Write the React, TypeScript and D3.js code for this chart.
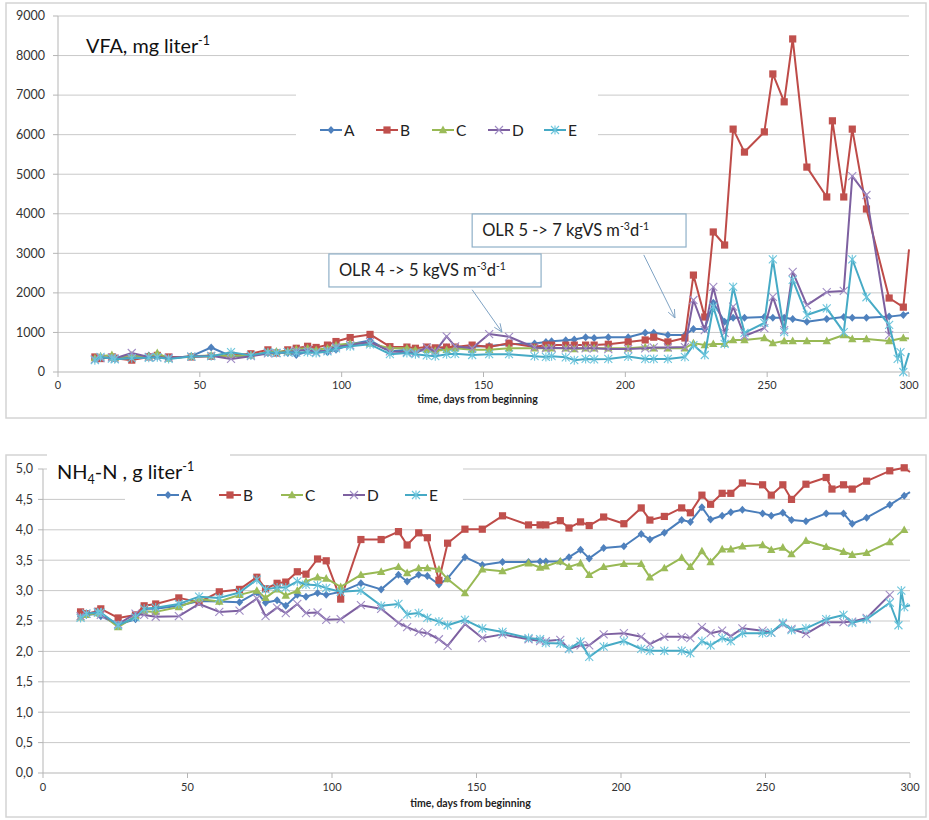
import React from "react";
import * as d3 from "d3";

// Sampling days (days from beginning) shared by both measurement series
const days = [
  13, 15, 19, 20, 26, 32, 35, 39, 47, 54,
  61, 68, 74, 77, 81, 84, 88, 91, 95, 98,
  103, 110, 117, 123, 126, 130, 133, 137, 140, 146,
  152, 159, 168, 172, 174, 179, 182, 186, 189, 194,
  201, 207, 210, 215, 221, 224, 228, 231, 235, 238,
  242, 249, 252, 256, 259, 264, 271, 273, 277, 280,
  285, 293, 296, 297, 298, 300,
];

const seriesNames = ["A", "B", "C", "D", "E"];

// VFA, mg per liter
const vfaA = [
  330, 360, 350, 340, 380, 420, 400, 350, 400, 620,
  400, 420, 480, 500, 480, 430, 520, 550, 500, 560,
  700, 800, 520, 560, 520, 560, 520, 620, 600, 640,
  660, 700, 720, 760, 780, 800, 820, 880, 860, 880,
  880, 990, 990, 935, 935, 1090, 1090, 1750, 1270, 1370,
  1370, 1390, 1370, 1370, 1340, 1270, 1340, null, 1390, 1370,
  1370, 1400, null, null, 1440, 1500,
];
const vfaB = [
  380, 340, 380, 350, 300, 380, 420, 380, 380, 400,
  420, 460, 560, 480, 560, 600, 650, 620, 680, 770,
  870, 950, 640, 630, 600, 630, 610, 630, 630, 680,
  630, 730, 630, 680, 680, 680, 680, 680, 680, 700,
  760, 810, 880, 760, 860, 2450, 1390, 3540, 3210, 6140,
  5560, 6070, 7535, 6830, 8420, 5180, 4425, 6350, 4425, 6140,
  4120, 1870, null, null, 1640, 3100,
];
const vfaC = [
  350, 400, 430, 360, 420, 400, 480, 340, 400, 420,
  410, 420, 500, 520, 520, 580, 600, 560, 600, 680,
  720, 720, 600, 600, 560, 560, 540, 560, 600, 560,
  560, 600, 600, 600, 600, 600, 580, 600, 600, 600,
  600, 630, 600, 600, 600, 730, 680, 710, 710, 810,
  810, 860, 730, 785, 785, 785, 785, null, 935, 835,
  835, 785, null, null, 860, 850,
];
const vfaD = [
  320, 350, 370, 340, 480, 380, 370, 360, 390, 410,
  330, 400, 470, 480, 500, 540, 560, 500, 550, 640,
  680, 760, 520, 500, 480, 620, 520, 900, 650, 600,
  960, 890, 620, 600, 610, 600, 600, 600, 600, 580,
  580, 600, 620, 620, 630, 1820, 1060, 2150, 990, 1650,
  910, 1110, 1900, 1060, 2530, 1690, 2020, null, 2050, 4950,
  4475, 935, null, null, null, null,
];
const vfaE = [
  300, 380, 340, 320, 350, 360, 370, 330, 390, 400,
  500, 420, 500, 480, 500, 490, 500, 480, 520, 600,
  650, 700, 450, 480, 450, 420, 400, 450, 460, 430,
  450, 450, 400, 380, 400, 370, 300, 330, 320, 330,
  390, 330, 330, 330, 380, 680, 430, 1650, 710, 2150,
  990, 1240, 2850, 1010, 2330, 1440, 1610, null, 1010, 2850,
  1890, 1190, 330, 500, 0, 480,
];

// NH4-N, g per liter
const nh4A = [
  2.57, 2.6, 2.62, 2.58, 2.44, 2.53, 2.7, 2.7, 2.75, 2.83,
  2.82, 2.81, 2.97, 2.8, 2.84, 2.75, 2.93, 2.9, 2.96, 2.93,
  2.98, 3.12, 3.02, 3.26, 3.15, 3.26, 3.24, 3.1, 3.2, 3.55,
  3.42, 3.47, 3.47, 3.48, 3.48, 3.48, 3.55, 3.67, 3.53, 3.7,
  3.73, 3.93, 3.84, 3.95, 4.16, 4.13, 4.37, 4.17, 4.23, 4.29,
  4.33, 4.27, 4.23, 4.28, 4.16, 4.14, 4.27, null, 4.27, 4.1,
  4.2, 4.41, null, null, 4.56, 4.62,
];
const nh4B = [
  2.65, 2.62, 2.66, 2.7, 2.55, 2.6, 2.75, 2.78, 2.88, 2.81,
  2.98, 3.02, 3.22, 3.03, 3.12, 3.14, 3.31, 3.27, 3.52, 3.49,
  2.86, 3.84, 3.84, 3.97, 3.75, 3.95, 3.87, 3.17, 3.78, 4.01,
  4.01, 4.23, 4.08, 4.08, 4.08, 4.15, 4.03, 4.13, 4.07, 4.21,
  4.1, 4.36, 4.16, 4.22, 4.36, 4.28, 4.57, 4.42, 4.6, 4.6,
  4.77, 4.74, 4.57, 4.74, 4.5, 4.75, 4.86, 4.67, 4.74, 4.67,
  4.8, 4.97, null, null, 5.02, 4.95,
];
const nh4C = [
  2.56, 2.6, 2.63, 2.62, 2.4, 2.58, 2.66, 2.65, 2.73, 2.86,
  2.82, 2.93, 3.0, 2.88, 3.02, 2.92, 3.0, 3.15, 3.22, 3.2,
  3.06, 3.26, 3.31, 3.39, 3.29, 3.37, 3.37, 3.35, 3.19, 2.96,
  3.35, 3.32, 3.45, 3.38, 3.4, 3.48, 3.39, 3.45, 3.26, 3.39,
  3.44, 3.44, 3.22, 3.37, 3.54, 3.39, 3.65, 3.47, 3.68, 3.68,
  3.73, 3.75, 3.67, 3.71, 3.6, 3.82, 3.72, null, 3.64, 3.59,
  3.62, 3.8, null, null, 4.0, null,
];
const nh4D = [
  2.58, 2.62, 2.65, 2.6, 2.45, 2.62, 2.6, 2.57, 2.58, 2.78,
  2.65, 2.67, 2.87, 2.58, 2.72, 2.63, 2.78, 2.63, 2.64, 2.52,
  2.53, 2.76, 2.7, 2.47, 2.4, 2.32, 2.3, 2.2, 2.09, 2.45,
  2.22, 2.28, 2.2, 2.17, 2.17, 2.19, 2.04, 2.1, 2.1, 2.28,
  2.3, 2.24, 2.12, 2.24, 2.24, 2.22, 2.4, 2.3, 2.34, 2.25,
  2.38, 2.34, 2.31, 2.45, 2.37, 2.29, 2.48, null, 2.48, 2.49,
  2.55, 2.93, null, null, null, null,
];
const nh4E = [
  2.55, 2.62, 2.64, 2.64, 2.43, 2.56, 2.7, 2.72, 2.78, 2.9,
  2.88, 2.97, 3.18, 3.02, 3.05, 3.05, 3.15, 3.1, 3.09, 3.04,
  2.98, 3.0, 2.75, 2.78, 2.61, 2.63, 2.55, 2.49, 2.43, 2.52,
  2.38, 2.32, 2.22, 2.2, 2.14, 2.13, 2.04, 2.16, 1.91, 2.08,
  2.17, 2.04, 2.01, 2.01, 2.01, 1.97, 2.17, 2.1, 2.22, 2.17,
  2.3, 2.3, 2.31, 2.47, 2.35, 2.38, 2.53, null, 2.6, 2.47,
  2.53, 2.8, 2.43, 3.0, 2.73, 2.76,
];

const dayTicks = [0, 50, 100, 150, 200, 250, 300];
const vfaTicks = [0, 1000, 2000, 3000, 4000, 5000, 6000, 7000, 8000, 9000];
const nh4Ticks = [0, 0.5, 1, 1.5, 2, 2.5, 3, 3.5, 4, 4.5, 5];

// Loading-rate change notes on the VFA panel: label box (days, values), arrow tail and tip
const olrNotes = [
  { from: "4", to: "5", box: [95.5, 170.3, 2984, 2150], tail: [146, 2080], tip: [156.5, 1010] },
  { from: "5", to: "7", box: [146, 221.4, 3995, 3160], tail: [206.5, 2960], tip: [217.5, 1365] },
];

const lineColors = ["#4A7EBB", "#BE4B48", "#98B954", "#7D60A0", "#46AAC5"];
const markerColors = ["#4F81BD", "#C0504D", "#9BBB59", "#A08CC4", "#6CC5DC"];
const markerKinds = ["diamond", "square", "triangle", "x", "star"];

const FONT = "Lato, 'Open Sans', sans-serif";
const GRID = "#c9c9c9";

function Marker({ kind, x, y, color }: { kind: string; x: number; y: number; color: string }) {
  switch (kind) {
    case "diamond":
      return <path d={`M${x},${y - 4}L${x + 3.6},${y}L${x},${y + 4}L${x - 3.6},${y}Z`} fill={color} />;
    case "square":
      return <rect x={x - 3.6} y={y - 3.6} width={7.2} height={7.2} fill={color} />;
    case "triangle":
      return <path d={`M${x},${y - 4.4}L${x + 4.2},${y + 3.2}L${x - 4.2},${y + 3.2}Z`} fill={color} />;
    case "x":
      return (
        <path
          d={`M${x - 4},${y - 4}L${x + 4},${y + 4}M${x - 4},${y + 4}L${x + 4},${y - 4}`}
          stroke={color}
          strokeWidth={1.1}
          fill="none"
        />
      );
    default:
      return (
        <path
          d={`M${x - 4},${y - 4}L${x + 4},${y + 4}M${x - 4},${y + 4}L${x + 4},${y - 4}M${x},${y - 4.5}L${x},${y + 4.5}`}
          stroke={color}
          strokeWidth={1.1}
          fill="none"
        />
      );
  }
}

type Panel = {
  frame: [number, number, number, number];
  xRange: [number, number];
  yRange: [number, number];
  yDomain: [number, number];
  yTicks: number[];
  yFormat: (v: number) => string;
  yLabelX: number;
  xLabelY: number;
  titleY: number;
  values: (number | null)[][];
  covers: [number, number, number, number][];
  legendX: number;
  legendY: number;
  legendStep: number;
};

function LinePanel({ p, title, children }: { p: Panel; title: React.ReactNode; children?: (x: any, y: any) => React.ReactNode }) {
  const x = d3.scaleLinear().domain([0, 300]).range(p.xRange);
  const y = d3.scaleLinear().domain(p.yDomain).range(p.yRange);
  const line = d3
    .line<[number, number]>()
    .x((d) => x(d[0]))
    .y((d) => y(d[1]));
  const [fx, fy, fw, fh] = p.frame;
  return (
    <g fontFamily={FONT}>
      <rect x={fx} y={fy} width={fw} height={fh} fill="#fff" stroke="#d4d4d4" strokeWidth={1.5} />
      {p.yTicks
        .filter((t) => t !== p.yDomain[0])
        .map((t) => (
          <line key={t} x1={p.xRange[0]} x2={p.xRange[1]} y1={y(t)} y2={y(t)} stroke={GRID} strokeWidth={1} />
        ))}
      {p.covers.map((c, i) => (
        <rect key={i} x={c[0]} y={c[1]} width={c[2]} height={c[3]} fill="#fff" />
      ))}
      {/* axes */}
      <line x1={p.xRange[0]} x2={p.xRange[0]} y1={p.yRange[1]} y2={p.yRange[0]} stroke="#b5b5b5" />
      <line x1={p.xRange[0]} x2={p.xRange[1]} y1={p.yRange[0]} y2={p.yRange[0]} stroke="#b5b5b5" />
      {p.yTicks.map((t) => (
        <g key={t}>
          <line x1={p.xRange[0] - 5} x2={p.xRange[0]} y1={y(t)} y2={y(t)} stroke="#b5b5b5" />
          <text x={p.yLabelX} y={y(t)} dy="0.35em" textAnchor="end" fontSize={12.5} fill="#333">
            {p.yFormat(t)}
          </text>
        </g>
      ))}
      {dayTicks.map((t) => (
        <g key={t}>
          <line x1={x(t)} x2={x(t)} y1={p.yRange[0]} y2={p.yRange[0] + 5} stroke="#b5b5b5" />
          <text x={x(t)} y={p.xLabelY} textAnchor="middle" fontSize={11} fill="#333">
            {t}
          </text>
        </g>
      ))}
      <text x={(p.xRange[0] + p.xRange[1]) / 2 - 6} y={p.titleY} textAnchor="middle" fontSize={10.5} fontWeight="bold" fill="#222">
        time, days from beginning
      </text>
      {title}
      {/* legend */}
      {seriesNames.map((n, i) => {
        const lx = p.legendX + i * p.legendStep;
        return (
          <g key={n}>
            <line x1={lx} x2={lx + 22} y1={p.legendY} y2={p.legendY} stroke={lineColors[i]} strokeWidth={2} />
            <Marker kind={markerKinds[i]} x={lx + 11} y={p.legendY} color={markerColors[i]} />
            <text x={lx + 24} y={p.legendY} dy="0.36em" fontSize={15.5} fill="#222">
              {n}
            </text>
          </g>
        );
      })}
      {children && children(x, y)}
      {/* series */}
      {p.values.map((vals, i) => {
        const pts = days
          .map((d, k) => [d, vals[k]] as [number, number | null])
          .filter((d) => d[1] !== null) as [number, number][];
        return (
          <g key={i}>
            <path d={line(pts) || ""} fill="none" stroke={lineColors[i]} strokeWidth={2} strokeLinejoin="round" />
            {pts
              .filter((d) => d[0] < 300)
              .map((d, k) => (
                <Marker key={k} kind={markerKinds[i]} x={x(d[0])} y={y(d[1])} color={markerColors[i]} />
              ))}
          </g>
        );
      })}
    </g>
  );
}

const vfaPanel: Panel = {
  frame: [6, 3, 920, 415],
  xRange: [58, 909],
  yRange: [372, 16],
  yDomain: [0, 9000],
  yTicks: vfaTicks,
  yFormat: (v) => String(v),
  yLabelX: 45,
  xLabelY: 389,
  titleY: 403,
  values: [vfaA, vfaB, vfaC, vfaD, vfaE],
  covers: [[296, 80, 302, 66]],
  legendX: 320,
  legendY: 130,
  legendStep: 56,
};

const nh4Panel: Panel = {
  frame: [6, 455, 920, 362],
  xRange: [43, 910],
  yRange: [773, 469],
  yDomain: [0, 5],
  yTicks: nh4Ticks,
  yFormat: (v) => d3.format(".1f")(v).replace(".", ","),
  yLabelX: 33,
  xLabelY: 791,
  titleY: 807,
  values: [nh4A, nh4B, nh4C, nh4D, nh4E],
  covers: [
    [47, 447, 183, 40],
    [125, 462, 338, 48],
  ],
  legendX: 157,
  legendY: 495,
  legendStep: 62,
};

function OlrNote({ n, x, y }: { n: (typeof olrNotes)[number]; x: any; y: any }) {
  const [d0, d1, v0, v1] = n.box;
  const bx = x(d0);
  const by = y(v0);
  const bw = x(d1) - bx;
  const bh = y(v1) - by;
  const tx = x(n.tail[0]);
  const ty = y(n.tail[1]);
  const hx = x(n.tip[0]);
  const hy = y(n.tip[1]);
  const ang = Math.atan2(hy - ty, hx - tx);
  const len = 9;
  const a1 = ang + Math.PI - 0.4;
  const a2 = ang + Math.PI + 0.4;
  return (
    <g>
      <rect x={bx} y={by} width={bw} height={bh} fill="#fff" stroke="#8fb0c8" strokeWidth={1.2} />
      <text x={bx + 10} y={by + bh / 2} dy="0.35em" fontSize={16.5} fill="#222">
        OLR {n.from} -&gt; {n.to} kgVS m
        <tspan dy={-6} fontSize={10.5}>-3</tspan>
        <tspan dy={6}>d</tspan>
        <tspan dy={-6} fontSize={10.5}>-1</tspan>
      </text>
      <path
        d={`M${tx},${ty}L${hx},${hy}M${hx + len * Math.cos(a1)},${hy + len * Math.sin(a1)}L${hx},${hy}L${hx + len * Math.cos(a2)},${hy + len * Math.sin(a2)}`}
        fill="none"
        stroke="#7fa3c4"
        strokeWidth={1}
      />
    </g>
  );
}

export default function App() {
  return (
    <svg
      width={929}
      height={820}
      viewBox="0 0 929 820"
      style={{ position: "absolute", left: 0, top: 0, display: "block", background: "#fff" }}
    >
      <rect width={929} height={820} fill="#fff" />
      <LinePanel
        p={vfaPanel}
        title={
          <text x={86} y={53} fontSize={19.8} fill="#111" fontFamily={FONT}>
            VFA, mg liter
            <tspan dy={-8} fontSize={12.5}>-1</tspan>
          </text>
        }
      >
        {(x, y) => olrNotes.map((n, i) => <OlrNote key={i} n={n} x={x} y={y} />)}
      </LinePanel>
      <LinePanel
        p={nh4Panel}
        title={
          <text x={57} y={479} fontSize={20} fill="#111" fontFamily={FONT}>
            NH<tspan dy={5} fontSize={12.5}>4</tspan>
            <tspan dy={-5}>-N , g liter</tspan>
            <tspan dy={-8} fontSize={12.5}>-1</tspan>
          </text>
        }
      />
    </svg>
  );
}
